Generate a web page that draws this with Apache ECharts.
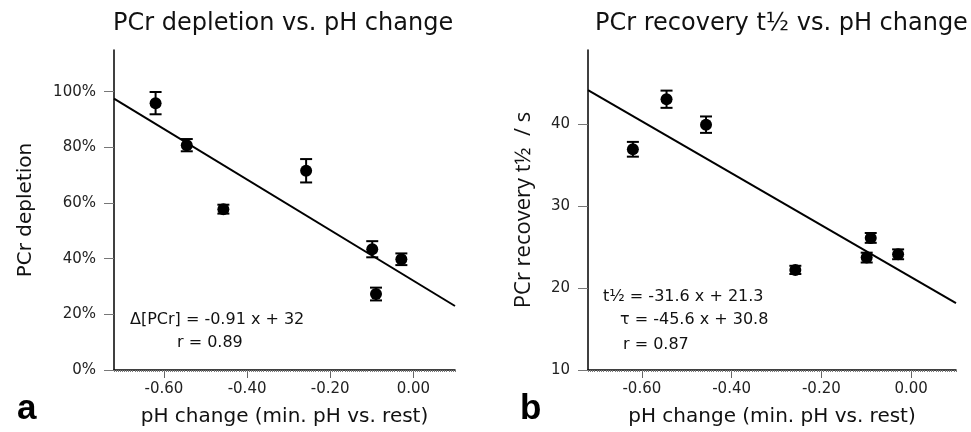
<!DOCTYPE html>
<html><head><meta charset="utf-8">
<script src="https://cdn.jsdelivr.net/npm/echarts@6/dist/echarts.min.js"></script>
<style>html,body{margin:0;padding:0;background:#fff}#c{width:971px;height:432px}</style>
</head><body><div id="c"></div>
<script>
const phChange = [-0.62, -0.545, -0.457, -0.258, -0.099, -0.09, -0.029];
const depletion = [95.9, 80.8, 57.8, 71.6, 43.4, 27.3, 39.8];
const depletionErr = [4.0, 2.2, 1.6, 4.2, 2.9, 2.3, 2.1];
const recovery = [36.9, 43.0, 39.9, 22.2, 23.7, 26.1, 24.1];
const recoveryErr = [0.9, 1.05, 1.0, 0.5, 0.6, 0.6, 0.6];
const depletionFit = [[-0.72, 97.5], [0.1, 23.0]];
const recoveryFit = [[-0.72, 44.1], [0.1, 18.15]];
const xTicks = [-0.6, -0.4, -0.2, 0];
const yTicksA = [0, 20, 40, 60, 80, 100];
const yTicksB = [10, 20, 30, 40];

const chart = echarts.init(document.getElementById('c'));
const tickFont = {fontFamily: 'DejaVu Sans', fontSize: 15, color: '#222'};
const nameFont = {fontFamily: 'DejaVu Sans', fontSize: 20, color: '#111'};

function mainX(grid) {
  return {
    type: 'value', gridIndex: grid, min: -0.72, max: 0.1, position: 'bottom',
    splitLine: {show: false},
    axisLine: {show: true, onZero: false, lineStyle: {color: '#000', width: 1.5}},
    axisTick: {show: true, length: 8, customValues: xTicks, lineStyle: {color: '#666'}},
    axisLabel: Object.assign({customValues: xTicks, margin: 12, formatter: v => v.toFixed(2)}, tickFont),
    name: 'pH change (min. pH vs. rest)', nameLocation: 'middle', nameGap: 37,
    nameTextStyle: nameFont
  };
}
function minorX(grid) {
  return {
    type: 'value', gridIndex: grid, min: -0.72, max: 0.1, interval: 0.005, position: 'bottom',
    splitLine: {show: false}, axisLine: {show: false, onZero: false},
    axisTick: {show: true, length: 2, lineStyle: {color: '#777', width: 1}},
    axisLabel: {show: false}
  };
}
function yAx(grid, min, max, ticks, fmt, name, gap, nf) {
  return {
    type: 'value', gridIndex: grid, min: min, max: max,
    splitLine: {show: false},
    axisLine: {show: true, onZero: false, lineStyle: {color: '#000', width: 1.5}},
    axisTick: {show: true, length: 10, customValues: ticks, lineStyle: {color: '#777'}},
    axisLabel: Object.assign({customValues: ticks, margin: 18, formatter: fmt}, tickFont),
    name: name, nameLocation: 'middle', nameGap: gap, nameTextStyle: nf
  };
}
function errItem(params, api) {
  const x = api.value(0);
  const p1 = api.coord([x, api.value(1)]);
  const p2 = api.coord([x, api.value(2)]);
  const hw = 6;
  const st = {stroke: '#000', lineWidth: 2};
  return {type: 'group', children: [
    {type: 'line', shape: {x1: p1[0], y1: p1[1], x2: p2[0], y2: p2[1]}, style: st},
    {type: 'line', shape: {x1: p1[0]-hw, y1: p1[1], x2: p1[0]+hw, y2: p1[1]}, style: st},
    {type: 'line', shape: {x1: p2[0]-hw, y1: p2[1], x2: p2[0]+hw, y2: p2[1]}, style: st}
  ]};
}
const errA = phChange.map((x, i) => [x, depletion[i] - depletionErr[i], depletion[i] + depletionErr[i]]);
const errB = phChange.map((x, i) => [x, recovery[i] - recoveryErr[i], recovery[i] + recoveryErr[i]]);
const ptsA = phChange.map((x, i) => [x, depletion[i]]);
const ptsB = phChange.map((x, i) => [x, recovery[i]]);

function txt(x, y, s, opts) {
  return {type: 'text', x: x, y: y, style: Object.assign({text: s, fill: '#111', fontFamily: 'DejaVu Sans', fontSize: 16, textVerticalAlign: 'middle'}, opts || {})};
}
const titleStyle = {fontFamily: 'DejaVu Sans', fontWeight: 'normal', fontSize: 24, color: '#111'};

chart.setOption({
  animation: false,
  title: [
    {text: 'PCr depletion vs. pH change', left: 108, top: 7, textStyle: titleStyle},
    {text: 'PCr recovery t½ vs. pH change', left: 590, top: 7, textStyle: titleStyle}
  ],
  grid: [
    {left: 114, top: 50, width: 341, height: 320},
    {left: 588, top: 50, width: 368, height: 320}
  ],
  xAxis: [mainX(0), mainX(1), minorX(0), minorX(1)],
  yAxis: [
    yAx(0, 0, 115, yTicksA, '{value}%', 'PCr depletion', 78, {fontFamily: 'DejaVu Sans', fontSize: 20, color: '#111'}),
    yAx(1, 10, 49, yTicksB, '{value}', 'PCr recovery t½  / s', 53, {fontFamily: 'Open Sans', fontSize: 22, color: '#111'})
  ],
  series: [
    {type: 'line', xAxisIndex: 0, yAxisIndex: 0, data: depletionFit, showSymbol: false, symbol: 'none', lineStyle: {color: '#000', width: 2}},
    {type: 'custom', xAxisIndex: 0, yAxisIndex: 0, data: errA, renderItem: errItem, encode: {x: 0, y: [1, 2]}},
    {type: 'scatter', xAxisIndex: 0, yAxisIndex: 0, data: ptsA, symbolSize: 12, itemStyle: {color: '#000', opacity: 1}},
    {type: 'line', xAxisIndex: 1, yAxisIndex: 1, data: recoveryFit, showSymbol: false, symbol: 'none', lineStyle: {color: '#000', width: 2}},
    {type: 'custom', xAxisIndex: 1, yAxisIndex: 1, data: errB, renderItem: errItem, encode: {x: 0, y: [1, 2]}},
    {type: 'scatter', xAxisIndex: 1, yAxisIndex: 1, data: ptsB, symbolSize: 12, itemStyle: {color: '#000', opacity: 1}}
  ],
  graphic: [
    txt(130, 320, 'Δ[PCr] = -0.91 x + 32'),
    txt(177, 343, 'r = 0.89'),
    txt(603, 297, 't½ = -31.6 x + 21.3'),
    txt(620, 320, 'τ = -45.6 x + 30.8'),
    txt(623, 345, 'r = 0.87'),
    txt(17, 427, 'a', {fontFamily: 'Liberation Sans', fontWeight: 'bold', fontSize: 35, textVerticalAlign: 'bottom', fill: '#000'}),
    txt(520, 427, 'b', {fontFamily: 'Liberation Sans', fontWeight: 'bold', fontSize: 35, textVerticalAlign: 'bottom', fill: '#000'})
  ]
});
</script></body></html>
